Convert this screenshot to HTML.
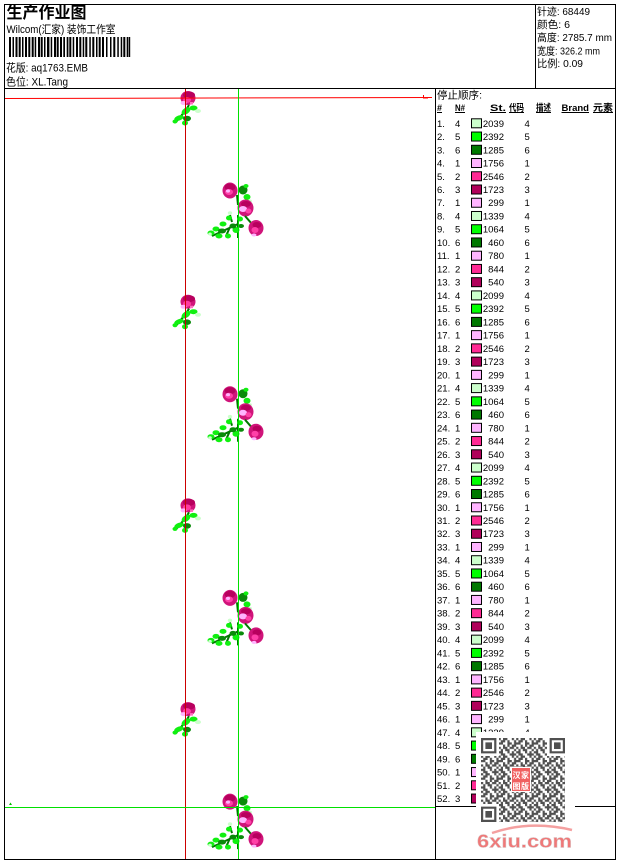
<!DOCTYPE html>
<html><head><meta charset="utf-8"><style>
html,body{margin:0;padding:0;background:#fff;width:620px;height:860px;overflow:hidden}
svg{display:block}
text{font-family:"Liberation Sans","Noto Sans CJK SC",sans-serif;fill:#000}
.t text{font-size:9.5px}
.e{text-anchor:end}
.sw{stroke:#000;stroke-width:1}
.c1{fill:#ffb4ff}.c2{fill:#ff2a94}.c3{fill:#b0005a}.c4{fill:#ccffcc}.c5{fill:#00ff00}.c6{fill:#007800}
</style></head><body>
<svg width="620" height="860" viewBox="0 0 620 860" xmlns="http://www.w3.org/2000/svg">
<defs>
<g id="single">
<ellipse cx="188" cy="98" rx="7.5" ry="7" fill="#d0147a"/>
<ellipse cx="189" cy="95" rx="6" ry="3.5" fill="#b8005e"/>
<ellipse cx="187" cy="100" rx="4" ry="3" fill="#ff3aa0"/>
<ellipse cx="183.5" cy="103" rx="3" ry="2" fill="#ffb4ff"/>
<rect x="190" y="102" width="3" height="2.5" fill="#ff70c0"/>
<path d="M189 105 L186 110 L181 116 L176 122" stroke="#007800" stroke-width="2" fill="none"/>
<ellipse cx="186" cy="111" rx="5" ry="3" fill="#10f010" transform="rotate(-35 186 111)"/>
<ellipse cx="193.5" cy="108" rx="4" ry="2.5" fill="#10f010"/>
<ellipse cx="198" cy="111" rx="3" ry="2" fill="#ccffcc"/>
<ellipse cx="179" cy="118" rx="5" ry="2.5" fill="#10f010" transform="rotate(-20 179 118)"/>
<ellipse cx="187" cy="118.5" rx="4" ry="2.8" fill="#0a8a0a"/>
<ellipse cx="185" cy="123" rx="3" ry="2.5" fill="#10f010"/>
<ellipse cx="175" cy="121.5" rx="2.5" ry="2" fill="#10f010"/>
</g>
<g id="cluster">
<ellipse cx="230" cy="190.5" rx="7.5" ry="8" fill="#d0147a"/>
<ellipse cx="230" cy="187" rx="5.5" ry="3.5" fill="#b8005e"/>
<ellipse cx="229" cy="192" rx="4" ry="3" fill="#ff40a8"/>
<ellipse cx="228" cy="191" rx="2" ry="1.6" fill="#ffb4ff"/>
<ellipse cx="243" cy="190" rx="4.5" ry="4.5" fill="#0a8a0a"/>
<ellipse cx="246" cy="186" rx="2.5" ry="2" fill="#10f010"/>
<ellipse cx="247" cy="197" rx="3.5" ry="3" fill="#10f010"/>
<ellipse cx="250" cy="201" rx="2" ry="1.5" fill="#ccffcc"/>
<path d="M237 195 L238 205" stroke="#007800" stroke-width="2"/>
<ellipse cx="245.5" cy="208" rx="8" ry="8.5" fill="#d0147a"/>
<ellipse cx="246" cy="204" rx="5" ry="3" fill="#b8005e"/>
<ellipse cx="243" cy="209" rx="4" ry="3" fill="#ffb4ff"/>
<ellipse cx="248.5" cy="211" rx="3" ry="2.5" fill="#ff40a8"/>
<path d="M245 216 L252 224" stroke="#007800" stroke-width="2"/>
<ellipse cx="256" cy="228" rx="7.5" ry="8" fill="#d0147a"/>
<ellipse cx="257" cy="225" rx="4.5" ry="3" fill="#b8005e"/>
<ellipse cx="255" cy="230" rx="3.5" ry="3" fill="#ff40a8"/>
<ellipse cx="254" cy="235" rx="2.5" ry="1.5" fill="#ffb4ff"/>
<path d="M238 224 L225 230 L212 236 M230 227 L226 236 M232 222 L230 215 M238 215 L238 238" stroke="#007800" stroke-width="2" fill="none"/>
<ellipse cx="211" cy="233" rx="3.5" ry="2.5" fill="#10f010"/>
<ellipse cx="216" cy="229" rx="3.5" ry="2.5" fill="#10f010"/>
<ellipse cx="223" cy="224" rx="3.5" ry="2.5" fill="#10f010"/>
<ellipse cx="229" cy="218" rx="3" ry="2.5" fill="#10f010"/>
<ellipse cx="219" cy="236" rx="3.5" ry="2.5" fill="#10f010"/>
<ellipse cx="228" cy="236" rx="3" ry="2.5" fill="#10f010"/>
<ellipse cx="236" cy="230" rx="3.5" ry="3" fill="#10f010"/>
<ellipse cx="240" cy="219" rx="3" ry="2.5" fill="#10f010"/>
<ellipse cx="230" cy="213" rx="2.2" ry="1.8" fill="#ccffcc"/>
<ellipse cx="210" cy="234" rx="1.8" ry="1.5" fill="#ccffcc"/>
<ellipse cx="222" cy="231" rx="4" ry="2.5" fill="#0a8a0a"/>
<ellipse cx="233" cy="226" rx="3.5" ry="2.5" fill="#0a8a0a"/>
<ellipse cx="241" cy="226" rx="3" ry="2" fill="#0a8a0a"/>
</g>
<pattern id="qr" patternUnits="userSpaceOnUse" width="8" height="8" patternTransform="translate(481 738) scale(2.2)">
<path fill="#505050" d="M0 0h1v1h-1zM2 0h2v1h-2zM6 0h1v1h-1zM1 1h2v1h-2zM4 1h1v1h-1zM7 1h1v1h-1zM0 2h2v1h-2zM4 2h2v1h-2zM7 2h1v1h-1zM2 3h1v1h-1zM4 3h1v1h-1zM6 3h2v1h-2zM0 4h1v1h-1zM2 4h2v1h-2zM5 4h2v1h-2zM1 5h1v1h-1zM3 5h2v1h-2zM7 5h1v1h-1zM0 6h2v1h-2zM4 6h1v1h-1zM6 6h1v1h-1zM1 7h2v1h-2zM5 7h3v1h-3z"/>
</pattern>
</defs>

<!-- header -->
<text x="6.5" y="18" font-size="16" font-weight="bold" textLength="80" lengthAdjust="spacingAndGlyphs">生产作业图</text>
<text x="6.5" y="33" font-size="11" textLength="109" lengthAdjust="spacingAndGlyphs">Wilcom(汇家) 装饰工作室</text>
<g fill="#000">
<rect x="9" y="37" width="2" height="20"/><rect x="12.5" y="37" width="1.5" height="20"/><rect x="15.5" y="37" width="2" height="20"/><rect x="18.7" y="37" width="2" height="20"/><rect x="22" y="37" width="1.5" height="20"/><rect x="25" y="37" width="2" height="20"/><rect x="28.3" y="37" width="2" height="20"/><rect x="31.7" y="37" width="2" height="20"/><rect x="34.7" y="37" width="1.5" height="20"/><rect x="38" y="37" width="2" height="20"/><rect x="40.7" y="37" width="2" height="20"/><rect x="44" y="37" width="1.5" height="20"/><rect x="47" y="37" width="2.4" height="20"/><rect x="50.7" y="37" width="1.5" height="20"/><rect x="54" y="37" width="2" height="20"/><rect x="56.7" y="37" width="2" height="20"/><rect x="60" y="37" width="2" height="20"/><rect x="63.3" y="37" width="1.7" height="20"/><rect x="66.7" y="37" width="1.7" height="20"/><rect x="69.3" y="37" width="2" height="20"/><rect x="72.7" y="37" width="1.5" height="20"/><rect x="76" y="37" width="2" height="20"/><rect x="79.3" y="37" width="2" height="20"/><rect x="82.7" y="37" width="1.5" height="20"/><rect x="85.3" y="37" width="2" height="20"/><rect x="89.3" y="37" width="1.5" height="20"/><rect x="92.3" y="37" width="2" height="20"/><rect x="96" y="37" width="1.5" height="20"/><rect x="98.7" y="37" width="2" height="20"/><rect x="102" y="37" width="2" height="20"/><rect x="106" y="37" width="1.5" height="20"/><rect x="110" y="37" width="1.5" height="20"/><rect x="113.3" y="37" width="2" height="20"/><rect x="117.3" y="37" width="1.5" height="20"/><rect x="120.7" y="37" width="1.5" height="20"/><rect x="123.3" y="37" width="2" height="20"/><rect x="126.7" y="37" width="1.5" height="20"/><rect x="128.7" y="37" width="1.5" height="20"/>
</g>
<text x="6" y="71.5" font-size="11" textLength="82" lengthAdjust="spacingAndGlyphs">花版: aq1763.EMB</text>
<text x="6" y="85.5" font-size="11" textLength="62" lengthAdjust="spacingAndGlyphs">色位: XL.Tang</text>

<text x="537" y="15" font-size="10.5" textLength="53" lengthAdjust="spacingAndGlyphs">针迹: 68449</text>
<text x="537" y="28" font-size="10.5" textLength="33" lengthAdjust="spacingAndGlyphs">颜色: 6</text>
<text x="537" y="41" font-size="10.5" textLength="75" lengthAdjust="spacingAndGlyphs">高度: 2785.7 mm</text>
<text x="537" y="54.5" font-size="10.5" textLength="63" lengthAdjust="spacingAndGlyphs">宽度: 326.2 mm</text>
<text x="537" y="67" font-size="10.5" textLength="46" lengthAdjust="spacingAndGlyphs">比例: 0.09</text>

<!-- design flowers -->
<use href="#single"/><use href="#single" y="203.7"/><use href="#single" y="407.4"/><use href="#single" y="611.1"/>
<use href="#cluster"/><use href="#cluster" y="203.7"/><use href="#cluster" y="407.4"/><use href="#cluster" y="611.1"/>

<!-- guide lines -->
<line x1="4" y1="98.5" x2="432" y2="97.5" stroke="#ff0000" stroke-width="1"/>
<path d="M423.5 95 V98 H428" stroke="#ff0000" stroke-width="1" fill="none"/>
<line x1="185.5" y1="88" x2="185.5" y2="859" stroke="#cc0000" stroke-width="1"/>
<line x1="238.5" y1="88" x2="238.5" y2="859" stroke="#00e000" stroke-width="1"/>
<line x1="4" y1="807.5" x2="435" y2="807.5" stroke="#00e000" stroke-width="1"/>
<path d="M9 805 L10.5 802.5 L12 805 Z" fill="#00c000"/>

<!-- table -->
<text x="437" y="98.5" font-size="10.5" textLength="45" lengthAdjust="spacingAndGlyphs">停止顺序:</text>
<g font-size="9.5" font-weight="bold">
<text x="437" y="111" textLength="5" lengthAdjust="spacingAndGlyphs">#</text>
<text x="455" y="111" textLength="10" lengthAdjust="spacingAndGlyphs">N#</text>
<text x="490" y="111" textLength="16" lengthAdjust="spacingAndGlyphs">St.</text>
<text x="509" y="111" textLength="15" lengthAdjust="spacingAndGlyphs">代码</text>
<text x="536" y="111" textLength="15" lengthAdjust="spacingAndGlyphs">描述</text>
<text x="561.5" y="111" textLength="27.5" lengthAdjust="spacingAndGlyphs">Brand</text>
<text x="593" y="111" textLength="20" lengthAdjust="spacingAndGlyphs">元素</text>
</g>
<path d="M437 112.5h5M455 112.5h10M490 112.5h16M509 112.5h15M536 112.5h15M561.5 112.5h27.5M593 112.5h20" stroke="#000" stroke-width="1"/>

<g class="t">
<g transform="translate(0,123.3)"><text x="437" y="3.5">1.</text><text x="455" y="3.5">4</text><rect class="sw c4" x="471.5" y="-4.5" width="10" height="9"/><text class="e" x="504" y="3.5">2039</text><text x="524.5" y="3.5">4</text></g>
<g transform="translate(0,136.54)"><text x="437" y="3.5">2.</text><text x="455" y="3.5">5</text><rect class="sw c5" x="471.5" y="-4.5" width="10" height="9"/><text class="e" x="504" y="3.5">2392</text><text x="524.5" y="3.5">5</text></g>
<g transform="translate(0,149.78)"><text x="437" y="3.5">3.</text><text x="455" y="3.5">6</text><rect class="sw c6" x="471.5" y="-4.5" width="10" height="9"/><text class="e" x="504" y="3.5">1285</text><text x="524.5" y="3.5">6</text></g>
<g transform="translate(0,163.02)"><text x="437" y="3.5">4.</text><text x="455" y="3.5">1</text><rect class="sw c1" x="471.5" y="-4.5" width="10" height="9"/><text class="e" x="504" y="3.5">1756</text><text x="524.5" y="3.5">1</text></g>
<g transform="translate(0,176.26)"><text x="437" y="3.5">5.</text><text x="455" y="3.5">2</text><rect class="sw c2" x="471.5" y="-4.5" width="10" height="9"/><text class="e" x="504" y="3.5">2546</text><text x="524.5" y="3.5">2</text></g>
<g transform="translate(0,189.5)"><text x="437" y="3.5">6.</text><text x="455" y="3.5">3</text><rect class="sw c3" x="471.5" y="-4.5" width="10" height="9"/><text class="e" x="504" y="3.5">1723</text><text x="524.5" y="3.5">3</text></g>
<g transform="translate(0,202.74)"><text x="437" y="3.5">7.</text><text x="455" y="3.5">1</text><rect class="sw c1" x="471.5" y="-4.5" width="10" height="9"/><text class="e" x="504" y="3.5">299</text><text x="524.5" y="3.5">1</text></g>
<g transform="translate(0,215.98)"><text x="437" y="3.5">8.</text><text x="455" y="3.5">4</text><rect class="sw c4" x="471.5" y="-4.5" width="10" height="9"/><text class="e" x="504" y="3.5">1339</text><text x="524.5" y="3.5">4</text></g>
<g transform="translate(0,229.22)"><text x="437" y="3.5">9.</text><text x="455" y="3.5">5</text><rect class="sw c5" x="471.5" y="-4.5" width="10" height="9"/><text class="e" x="504" y="3.5">1064</text><text x="524.5" y="3.5">5</text></g>
<g transform="translate(0,242.46)"><text x="437" y="3.5">10.</text><text x="455" y="3.5">6</text><rect class="sw c6" x="471.5" y="-4.5" width="10" height="9"/><text class="e" x="504" y="3.5">460</text><text x="524.5" y="3.5">6</text></g>
<g transform="translate(0,255.7)"><text x="437" y="3.5">11.</text><text x="455" y="3.5">1</text><rect class="sw c1" x="471.5" y="-4.5" width="10" height="9"/><text class="e" x="504" y="3.5">780</text><text x="524.5" y="3.5">1</text></g>
<g transform="translate(0,268.94)"><text x="437" y="3.5">12.</text><text x="455" y="3.5">2</text><rect class="sw c2" x="471.5" y="-4.5" width="10" height="9"/><text class="e" x="504" y="3.5">844</text><text x="524.5" y="3.5">2</text></g>
<g transform="translate(0,282.18)"><text x="437" y="3.5">13.</text><text x="455" y="3.5">3</text><rect class="sw c3" x="471.5" y="-4.5" width="10" height="9"/><text class="e" x="504" y="3.5">540</text><text x="524.5" y="3.5">3</text></g>
<g transform="translate(0,295.42)"><text x="437" y="3.5">14.</text><text x="455" y="3.5">4</text><rect class="sw c4" x="471.5" y="-4.5" width="10" height="9"/><text class="e" x="504" y="3.5">2099</text><text x="524.5" y="3.5">4</text></g>
<g transform="translate(0,308.66)"><text x="437" y="3.5">15.</text><text x="455" y="3.5">5</text><rect class="sw c5" x="471.5" y="-4.5" width="10" height="9"/><text class="e" x="504" y="3.5">2392</text><text x="524.5" y="3.5">5</text></g>
<g transform="translate(0,321.9)"><text x="437" y="3.5">16.</text><text x="455" y="3.5">6</text><rect class="sw c6" x="471.5" y="-4.5" width="10" height="9"/><text class="e" x="504" y="3.5">1285</text><text x="524.5" y="3.5">6</text></g>
<g transform="translate(0,335.14)"><text x="437" y="3.5">17.</text><text x="455" y="3.5">1</text><rect class="sw c1" x="471.5" y="-4.5" width="10" height="9"/><text class="e" x="504" y="3.5">1756</text><text x="524.5" y="3.5">1</text></g>
<g transform="translate(0,348.38)"><text x="437" y="3.5">18.</text><text x="455" y="3.5">2</text><rect class="sw c2" x="471.5" y="-4.5" width="10" height="9"/><text class="e" x="504" y="3.5">2546</text><text x="524.5" y="3.5">2</text></g>
<g transform="translate(0,361.62)"><text x="437" y="3.5">19.</text><text x="455" y="3.5">3</text><rect class="sw c3" x="471.5" y="-4.5" width="10" height="9"/><text class="e" x="504" y="3.5">1723</text><text x="524.5" y="3.5">3</text></g>
<g transform="translate(0,374.86)"><text x="437" y="3.5">20.</text><text x="455" y="3.5">1</text><rect class="sw c1" x="471.5" y="-4.5" width="10" height="9"/><text class="e" x="504" y="3.5">299</text><text x="524.5" y="3.5">1</text></g>
<g transform="translate(0,388.1)"><text x="437" y="3.5">21.</text><text x="455" y="3.5">4</text><rect class="sw c4" x="471.5" y="-4.5" width="10" height="9"/><text class="e" x="504" y="3.5">1339</text><text x="524.5" y="3.5">4</text></g>
<g transform="translate(0,401.34)"><text x="437" y="3.5">22.</text><text x="455" y="3.5">5</text><rect class="sw c5" x="471.5" y="-4.5" width="10" height="9"/><text class="e" x="504" y="3.5">1064</text><text x="524.5" y="3.5">5</text></g>
<g transform="translate(0,414.58)"><text x="437" y="3.5">23.</text><text x="455" y="3.5">6</text><rect class="sw c6" x="471.5" y="-4.5" width="10" height="9"/><text class="e" x="504" y="3.5">460</text><text x="524.5" y="3.5">6</text></g>
<g transform="translate(0,427.82)"><text x="437" y="3.5">24.</text><text x="455" y="3.5">1</text><rect class="sw c1" x="471.5" y="-4.5" width="10" height="9"/><text class="e" x="504" y="3.5">780</text><text x="524.5" y="3.5">1</text></g>
<g transform="translate(0,441.06)"><text x="437" y="3.5">25.</text><text x="455" y="3.5">2</text><rect class="sw c2" x="471.5" y="-4.5" width="10" height="9"/><text class="e" x="504" y="3.5">844</text><text x="524.5" y="3.5">2</text></g>
<g transform="translate(0,454.3)"><text x="437" y="3.5">26.</text><text x="455" y="3.5">3</text><rect class="sw c3" x="471.5" y="-4.5" width="10" height="9"/><text class="e" x="504" y="3.5">540</text><text x="524.5" y="3.5">3</text></g>
<g transform="translate(0,467.54)"><text x="437" y="3.5">27.</text><text x="455" y="3.5">4</text><rect class="sw c4" x="471.5" y="-4.5" width="10" height="9"/><text class="e" x="504" y="3.5">2099</text><text x="524.5" y="3.5">4</text></g>
<g transform="translate(0,480.78)"><text x="437" y="3.5">28.</text><text x="455" y="3.5">5</text><rect class="sw c5" x="471.5" y="-4.5" width="10" height="9"/><text class="e" x="504" y="3.5">2392</text><text x="524.5" y="3.5">5</text></g>
<g transform="translate(0,494.02)"><text x="437" y="3.5">29.</text><text x="455" y="3.5">6</text><rect class="sw c6" x="471.5" y="-4.5" width="10" height="9"/><text class="e" x="504" y="3.5">1285</text><text x="524.5" y="3.5">6</text></g>
<g transform="translate(0,507.26)"><text x="437" y="3.5">30.</text><text x="455" y="3.5">1</text><rect class="sw c1" x="471.5" y="-4.5" width="10" height="9"/><text class="e" x="504" y="3.5">1756</text><text x="524.5" y="3.5">1</text></g>
<g transform="translate(0,520.5)"><text x="437" y="3.5">31.</text><text x="455" y="3.5">2</text><rect class="sw c2" x="471.5" y="-4.5" width="10" height="9"/><text class="e" x="504" y="3.5">2546</text><text x="524.5" y="3.5">2</text></g>
<g transform="translate(0,533.74)"><text x="437" y="3.5">32.</text><text x="455" y="3.5">3</text><rect class="sw c3" x="471.5" y="-4.5" width="10" height="9"/><text class="e" x="504" y="3.5">1723</text><text x="524.5" y="3.5">3</text></g>
<g transform="translate(0,546.98)"><text x="437" y="3.5">33.</text><text x="455" y="3.5">1</text><rect class="sw c1" x="471.5" y="-4.5" width="10" height="9"/><text class="e" x="504" y="3.5">299</text><text x="524.5" y="3.5">1</text></g>
<g transform="translate(0,560.22)"><text x="437" y="3.5">34.</text><text x="455" y="3.5">4</text><rect class="sw c4" x="471.5" y="-4.5" width="10" height="9"/><text class="e" x="504" y="3.5">1339</text><text x="524.5" y="3.5">4</text></g>
<g transform="translate(0,573.46)"><text x="437" y="3.5">35.</text><text x="455" y="3.5">5</text><rect class="sw c5" x="471.5" y="-4.5" width="10" height="9"/><text class="e" x="504" y="3.5">1064</text><text x="524.5" y="3.5">5</text></g>
<g transform="translate(0,586.7)"><text x="437" y="3.5">36.</text><text x="455" y="3.5">6</text><rect class="sw c6" x="471.5" y="-4.5" width="10" height="9"/><text class="e" x="504" y="3.5">460</text><text x="524.5" y="3.5">6</text></g>
<g transform="translate(0,599.94)"><text x="437" y="3.5">37.</text><text x="455" y="3.5">1</text><rect class="sw c1" x="471.5" y="-4.5" width="10" height="9"/><text class="e" x="504" y="3.5">780</text><text x="524.5" y="3.5">1</text></g>
<g transform="translate(0,613.18)"><text x="437" y="3.5">38.</text><text x="455" y="3.5">2</text><rect class="sw c2" x="471.5" y="-4.5" width="10" height="9"/><text class="e" x="504" y="3.5">844</text><text x="524.5" y="3.5">2</text></g>
<g transform="translate(0,626.42)"><text x="437" y="3.5">39.</text><text x="455" y="3.5">3</text><rect class="sw c3" x="471.5" y="-4.5" width="10" height="9"/><text class="e" x="504" y="3.5">540</text><text x="524.5" y="3.5">3</text></g>
<g transform="translate(0,639.66)"><text x="437" y="3.5">40.</text><text x="455" y="3.5">4</text><rect class="sw c4" x="471.5" y="-4.5" width="10" height="9"/><text class="e" x="504" y="3.5">2099</text><text x="524.5" y="3.5">4</text></g>
<g transform="translate(0,652.9)"><text x="437" y="3.5">41.</text><text x="455" y="3.5">5</text><rect class="sw c5" x="471.5" y="-4.5" width="10" height="9"/><text class="e" x="504" y="3.5">2392</text><text x="524.5" y="3.5">5</text></g>
<g transform="translate(0,666.14)"><text x="437" y="3.5">42.</text><text x="455" y="3.5">6</text><rect class="sw c6" x="471.5" y="-4.5" width="10" height="9"/><text class="e" x="504" y="3.5">1285</text><text x="524.5" y="3.5">6</text></g>
<g transform="translate(0,679.38)"><text x="437" y="3.5">43.</text><text x="455" y="3.5">1</text><rect class="sw c1" x="471.5" y="-4.5" width="10" height="9"/><text class="e" x="504" y="3.5">1756</text><text x="524.5" y="3.5">1</text></g>
<g transform="translate(0,692.62)"><text x="437" y="3.5">44.</text><text x="455" y="3.5">2</text><rect class="sw c2" x="471.5" y="-4.5" width="10" height="9"/><text class="e" x="504" y="3.5">2546</text><text x="524.5" y="3.5">2</text></g>
<g transform="translate(0,705.86)"><text x="437" y="3.5">45.</text><text x="455" y="3.5">3</text><rect class="sw c3" x="471.5" y="-4.5" width="10" height="9"/><text class="e" x="504" y="3.5">1723</text><text x="524.5" y="3.5">3</text></g>
<g transform="translate(0,719.1)"><text x="437" y="3.5">46.</text><text x="455" y="3.5">1</text><rect class="sw c1" x="471.5" y="-4.5" width="10" height="9"/><text class="e" x="504" y="3.5">299</text><text x="524.5" y="3.5">1</text></g>
<g transform="translate(0,732.34)"><text x="437" y="3.5">47.</text><text x="455" y="3.5">4</text><rect class="sw c4" x="471.5" y="-4.5" width="10" height="9"/><text class="e" x="504" y="3.5">1339</text><text x="524.5" y="3.5">4</text></g>
<g transform="translate(0,745.58)"><text x="437" y="3.5">48.</text><text x="455" y="3.5">5</text><rect class="sw c5" x="471.5" y="-4.5" width="10" height="9"/><text class="e" x="504" y="3.5">1064</text><text x="524.5" y="3.5">5</text></g>
<g transform="translate(0,758.82)"><text x="437" y="3.5">49.</text><text x="455" y="3.5">6</text><rect class="sw c6" x="471.5" y="-4.5" width="10" height="9"/><text class="e" x="504" y="3.5">460</text><text x="524.5" y="3.5">6</text></g>
<g transform="translate(0,772.06)"><text x="437" y="3.5">50.</text><text x="455" y="3.5">1</text><rect class="sw c1" x="471.5" y="-4.5" width="10" height="9"/><text class="e" x="504" y="3.5">780</text><text x="524.5" y="3.5">1</text></g>
<g transform="translate(0,785.3)"><text x="437" y="3.5">51.</text><text x="455" y="3.5">2</text><rect class="sw c2" x="471.5" y="-4.5" width="10" height="9"/><text class="e" x="504" y="3.5">844</text><text x="524.5" y="3.5">2</text></g>
<g transform="translate(0,798.54)"><text x="437" y="3.5">52.</text><text x="455" y="3.5">3</text><rect class="sw c3" x="471.5" y="-4.5" width="10" height="9"/><text class="e" x="504" y="3.5">540</text><text x="524.5" y="3.5">3</text></g>
</g>

<!-- frame lines -->
<g stroke="#000" stroke-width="1" fill="none">
<rect x="4.5" y="4.5" width="611" height="855"/>
<line x1="4" y1="88.5" x2="616" y2="88.5"/>
<line x1="535.5" y1="4" x2="535.5" y2="88"/>
<line x1="435.5" y1="88" x2="435.5" y2="859"/>
<line x1="435" y1="806.5" x2="616" y2="806.5"/>
</g>

<!-- QR overlay -->
<rect x="476" y="732" width="99" height="91" fill="#fff"/>
<rect x="481" y="738" width="84" height="84" fill="url(#qr)"/>
<g>
<rect x="480" y="737" width="19" height="19" fill="#fff"/>
<rect x="547" y="737" width="19" height="19" fill="#fff"/>
<rect x="480" y="804" width="19" height="19" fill="#fff"/>
<path fill="#505050" fill-rule="evenodd" d="M481 738h15.4v15.4h-15.4zM483.2 740.2v11h11v-11z M485.4 742.4h6.6v6.6h-6.6z"/>
<path fill="#505050" fill-rule="evenodd" d="M549.6 738h15.4v15.4h-15.4zM551.8 740.2v11h11v-11z M554 742.4h6.6v6.6h-6.6z"/>
<path fill="#505050" fill-rule="evenodd" d="M481 806.6h15.4v15.4h-15.4zM483.2 808.8v11h11v-11z M485.4 811h6.6v6.6h-6.6z"/>
</g>
<rect x="511" y="767" width="20" height="25" fill="#fff"/>
<rect x="512" y="768" width="18" height="23" fill="#f06060"/>
<g font-size="8" font-weight="bold">
<text x="512.5" y="778" style="fill:#fff">汉</text><text x="521" y="778" style="fill:#fff">家</text>
<text x="512.5" y="789" style="fill:#fff">图</text><text x="521" y="789" style="fill:#fff">版</text>
</g>

<!-- watermark -->
<path d="M492 833 Q530 820 572 830" stroke="#f4a0a0" stroke-width="2.5" fill="none"/>
<text x="477" y="847.5" font-size="18" font-weight="bold" textLength="95" lengthAdjust="spacingAndGlyphs" style="fill:#f07878;stroke:#d8c8c8;stroke-width:0.4">6xiu.com</text>
</svg>
</body></html>
